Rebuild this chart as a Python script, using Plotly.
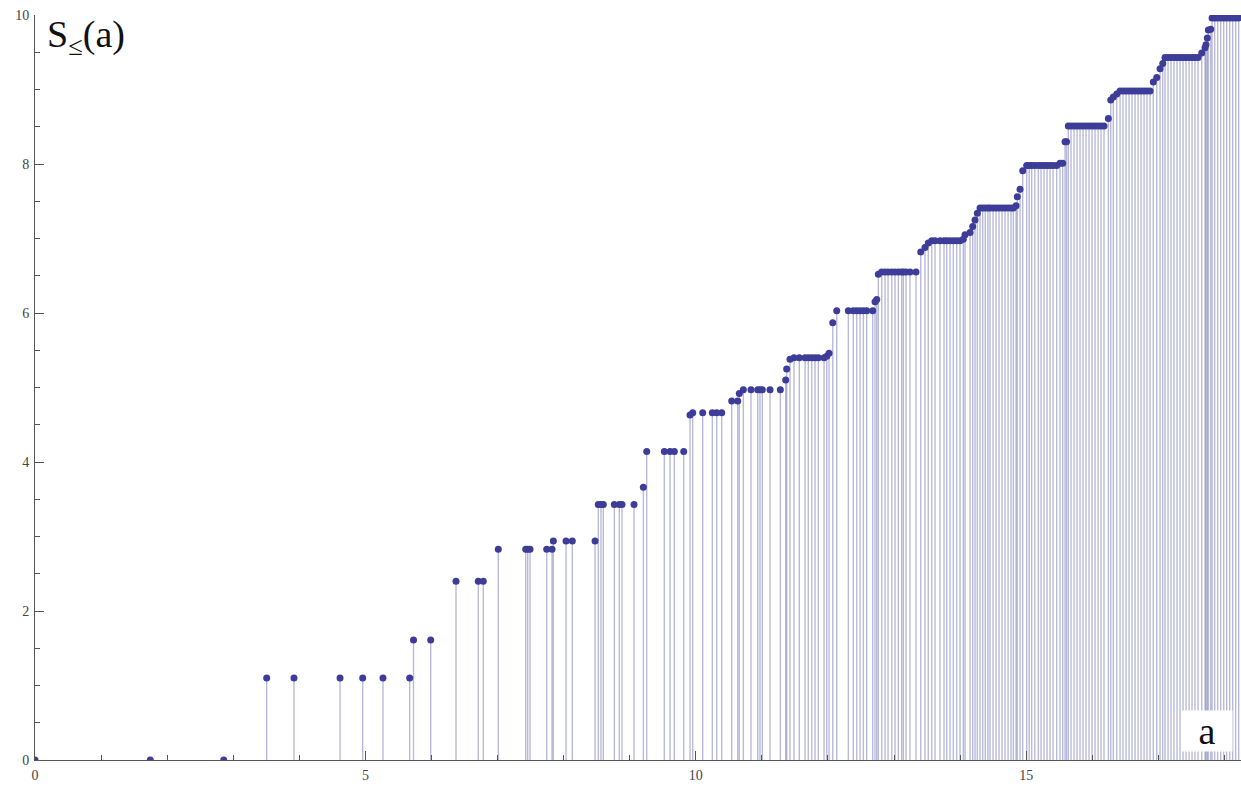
import plotly.graph_objects as go

POINT = "#3d3d99"
STEM = "rgba(61,61,153,0.36)"
AXIS = "#555555"
TICK_FONT = dict(family="Liberation Serif", size=14, color="#444444")

# values, grouped by region of the a axis
a_low = [0, 1.745, 2.856, 3.506, 3.919, 4.616, 4.959, 5.266, 5.670, 5.728, 5.988,
         6.371, 6.708, 6.784, 7.011, 7.426, 7.456, 7.491, 7.744, 7.824,
         7.844, 8.036, 8.131, 8.475]
s_low = [0, 0, 0, 1.10, 1.10, 1.10, 1.10, 1.10, 1.10, 1.61, 1.61,
         2.40, 2.40, 2.40, 2.83, 2.83, 2.83, 2.83, 2.83, 2.83,
         2.94, 2.94, 2.94, 2.94]

a_mid = [8.524, 8.565, 8.600, 8.767, 8.842, 8.883, 9.065, 9.206,
         9.257, 9.523, 9.610, 9.675, 9.817, 9.912,
         9.953, 10.104, 10.250, 10.316, 10.392, 10.543, 10.634, 10.658,
         10.719, 10.835, 10.937, 10.971, 11.006, 11.123, 11.279,
         11.360, 11.375, 11.425,
         11.486, 11.566, 11.653, 11.702, 11.754, 11.804, 11.854, 11.940,
         11.981, 12.016]
s_mid = [3.43, 3.43, 3.43, 3.43, 3.43, 3.43, 3.43, 3.66,
         4.14, 4.14, 4.14, 4.14, 4.14, 4.63,
         4.66, 4.66, 4.66, 4.66, 4.66, 4.82, 4.82, 4.92,
         4.97, 4.97, 4.97, 4.97, 4.97, 4.97, 4.97,
         5.10, 5.25, 5.38,
         5.40, 5.40, 5.40, 5.40, 5.40, 5.40, 5.40, 5.40,
         5.42, 5.46]

a_high1 = [12.072, 12.132, 12.308, 12.383, 12.435, 12.485, 12.535, 12.586, 12.677,
           12.712, 12.738, 12.762,
           12.813, 12.863, 12.909, 12.965, 13.015, 13.065, 13.116, 13.141, 13.181,
           13.241, 13.332,
           13.403, 13.468, 13.518,
           13.570, 13.620, 13.695, 13.756, 13.797, 13.847, 13.897, 13.948, 13.998,
           14.048, 14.074, 14.150]
s_high1 = [5.87, 6.03, 6.03, 6.03, 6.03, 6.03, 6.03, 6.03, 6.03,
           6.15, 6.18, 6.52,
           6.55, 6.55, 6.55, 6.55, 6.55, 6.55, 6.55, 6.55, 6.55,
           6.55, 6.55,
           6.82, 6.88, 6.94,
           6.97, 6.97, 6.97, 6.97, 6.97, 6.97, 6.97, 6.97, 6.97,
           6.99, 7.05, 7.08]

a_high2 = [14.190, 14.225, 14.260,
           14.301, 14.341, 14.380, 14.420, 14.452, 14.498, 14.543, 14.588, 14.634,
           14.679, 14.725, 14.770, 14.805,
           14.846, 14.865, 14.906, 14.947,
           15.007, 15.045, 15.083, 15.130, 15.183, 15.224, 15.269, 15.315, 15.360,
           15.406, 15.461,
           15.511, 15.552, 15.587, 15.610, 15.637]
s_high2 = [7.16, 7.25, 7.34,
           7.41, 7.41, 7.41, 7.41, 7.41, 7.41, 7.41, 7.41, 7.41,
           7.41, 7.41, 7.41, 7.41,
           7.44, 7.56, 7.66, 7.91,
           7.98, 7.98, 7.98, 7.98, 7.98, 7.98, 7.98, 7.98, 7.98,
           7.98, 7.98,
           8.01, 8.01, 8.30, 8.30, 8.51]

a_high3 = [15.678, 15.723, 15.769, 15.814, 15.860, 15.905, 15.950, 15.996, 16.041,
           16.087, 16.132, 16.177,
           16.243, 16.279, 16.318, 16.370,
           16.420, 16.465, 16.511, 16.556, 16.601, 16.647, 16.692, 16.737, 16.783,
           16.828, 16.874,
           16.923, 16.975, 17.025, 17.066]
s_high3 = [8.51, 8.51, 8.51, 8.51, 8.51, 8.51, 8.51, 8.51, 8.51,
           8.51, 8.51, 8.51,
           8.61, 8.86, 8.90, 8.94,
           8.98, 8.98, 8.98, 8.98, 8.98, 8.98, 8.98, 8.98, 8.98,
           8.98, 8.98,
           9.10, 9.16, 9.28, 9.35]

a_top = [17.100, 17.146, 17.191, 17.236, 17.282, 17.327, 17.373, 17.418, 17.464,
         17.509, 17.554, 17.600,
         17.656, 17.706, 17.720, 17.740, 17.756, 17.792,
         17.812, 17.852, 17.897, 17.943, 17.988, 18.033, 18.079, 18.124, 18.169, 18.215]
s_top = [9.43, 9.43, 9.43, 9.43, 9.43, 9.43, 9.43, 9.43, 9.43,
         9.43, 9.43, 9.43,
         9.49, 9.56, 9.60, 9.69, 9.80, 9.81,
         9.96, 9.96, 9.96, 9.96, 9.96, 9.96, 9.96, 9.96, 9.96, 9.96]

a_vals = a_low + a_mid + a_high1 + a_high2 + a_high3 + a_top
s_vals = s_low + s_mid + s_high1 + s_high2 + s_high3 + s_top

fig = go.Figure()
# stems down to the axis are drawn as one-sided error bars, points on top
fig.add_trace(go.Scatter(
    x=a_vals, y=s_vals, mode="markers",
    marker=dict(size=7, color=POINT, line=dict(width=0)),
    error_y=dict(type="data", symmetric=False, array=[0] * len(s_vals),
                 arrayminus=s_vals, color=STEM, thickness=1.4, width=0),
))

fig.update_layout(
    width=1241, height=788,
    margin=dict(l=35, r=0, t=15, b=28),
    paper_bgcolor="white", plot_bgcolor="white",
    showlegend=False,
    xaxis=dict(range=[0, 18.25], showgrid=False, zeroline=False,
               showline=True, linecolor=AXIS, linewidth=1,
               ticks="inside", ticklen=9, tickcolor=AXIS, tickwidth=1,
               tick0=0, dtick=5, tickfont=TICK_FONT, ticklabelstandoff=2,
               minor=dict(dtick=1, ticks="inside", ticklen=5, tickcolor=AXIS)),
    yaxis=dict(range=[0, 10], showgrid=False, zeroline=False,
               showline=True, linecolor=AXIS, linewidth=1,
               ticks="inside", ticklen=9, tickcolor=AXIS, tickwidth=1,
               tick0=0, dtick=2, tickfont=TICK_FONT, ticklabelstandoff=2,
               minor=dict(dtick=0.5, ticks="inside", ticklen=5, tickcolor=AXIS)),
    annotations=[
        dict(text="S<sub>≤</sub>(a)", xref="paper", yref="paper",
             x=0.008, y=0.970, xanchor="left", yanchor="middle", showarrow=False,
             font=dict(family="Liberation Serif", size=38, color="#111111")),
        dict(text="a", xref="paper", yref="paper",
             x=0.972, y=0.039, xanchor="center", yanchor="middle", showarrow=False,
             width=48, height=38, bgcolor="white",
             font=dict(family="Liberation Serif", size=38, color="#111111")),
    ],
)

# the page body has a default 8px margin; drop it so the figure sits at the corner
fig.write_html("out.html", config={"displayModeBar": False},
               post_script="document.body.style.margin='0';")
